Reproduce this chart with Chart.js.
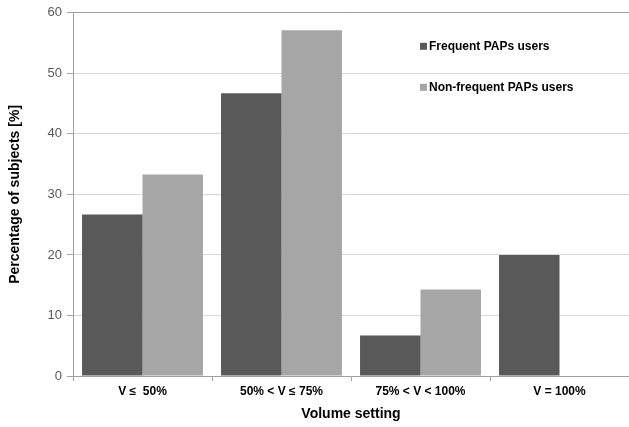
<!DOCTYPE html>
<html>
<head>
<meta charset="utf-8">
<script src="https://cdn.jsdelivr.net/npm/chart.js@4"></script>
<style>
    html, body { margin: 0; padding: 0; background: #fff; }
    #wrap { width: 629px; height: 427px; position: relative; }
</style>
</head>
<body>
<div id="wrap"><canvas id="chart"></canvas></div>
<script>
// Volume setting vs share of subjects

const categories = ['V \u2264  50%', '50% < V \u2264 75%', '75% < V < 100%', 'V = 100%'];
const frequentUsers = [26.7, 46.7, 6.7, 20.0];
const nonFrequentUsers = [33.3, 57.1, 14.3, 0];
const seriesNames = ['Frequent PAPs users', 'Non-frequent PAPs users'];
const yTicks = [0, 10, 20, 30, 40, 50, 60];

const DARK = '#595959';
const LIGHT = '#a6a6a6';
const FONT = "'Liberation Sans', Arial, sans-serif";

// legend sits inside the plot, top right
const insideLegend = {
    id: 'insideLegend',
    afterDraw(chart) {
        const { ctx, chartArea } = chart;
        const x = chartArea.left + 347;
        let y = chartArea.top + 33;
        ctx.save();
        ctx.font = 'bold 12px ' + FONT;
        ctx.textBaseline = 'middle';
        chart.data.datasets.forEach(ds => {
            ctx.fillStyle = ds.backgroundColor;
            ctx.fillRect(x, y - 3, 7, 7);
            ctx.fillStyle = '#000';
            ctx.fillText(ds.label, x + 9, y + 1);
            y += 41;
        });
        ctx.restore();
    },
};

new Chart(document.getElementById('chart'), {
    type: 'bar',
    data: {
        labels: categories,
        datasets: [
            { label: seriesNames[0], data: frequentUsers, backgroundColor: DARK },
            { label: seriesNames[1], data: nonFrequentUsers, backgroundColor: LIGHT },
        ],
    },
    options: {
        responsive: true,
        maintainAspectRatio: false,
        animation: false,
        layout: { padding: { top: 2, right: 0, left: 0, bottom: 0 } },
        datasets: { bar: { categoryPercentage: 0.87, barPercentage: 1.0 } },
        plugins: {
            legend: { display: false },
            tooltip: { enabled: false },
        },
        scales: {
            x: {
                grid: {
                    offset: true,
                    drawOnChartArea: false,
                    drawTicks: true,
                    tickLength: 5,
                    tickColor: '#a0a0a0',
                },
                border: { color: '#a0a0a0', width: 1 },
                ticks: {
                    color: '#000',
                    font: { family: FONT, size: 12, weight: 'bold' },
                    padding: 3,
                    maxRotation: 0,
                },
                title: {
                    display: true,
                    text: 'Volume setting',
                    color: '#000',
                    font: { family: FONT, size: 14, weight: 'bold' },
                    padding: { top: 4, bottom: 4 },
                },
                afterFit: (s) => { s.height = 51; },
            },
            y: {
                min: 0,
                max: 60,
                afterBuildTicks: (s) => { s.ticks = yTicks.map(v => ({ value: v })); },
                grid: {
                    color: (c) => c.tick && c.tick.value === 60 ? '#a0a0a0' : '#d9d9d9',
                    tickColor: '#a0a0a0',
                    tickLength: 6,
                },
                border: { color: '#a0a0a0', width: 1 },
                ticks: {
                    color: '#595959',
                    font: { family: FONT, size: 13 },
                    padding: 5,
                },
                title: {
                    display: true,
                    text: 'Percentage of subjects [%]',
                    color: '#000',
                    font: { family: FONT, size: 14, weight: 'bold' },
                    padding: { top: 7, bottom: 8 },
                },
                afterFit: (s) => { s.width = 73; },
            },
        },
    },
    plugins: [insideLegend],
});
</script>
</body>
</html>
